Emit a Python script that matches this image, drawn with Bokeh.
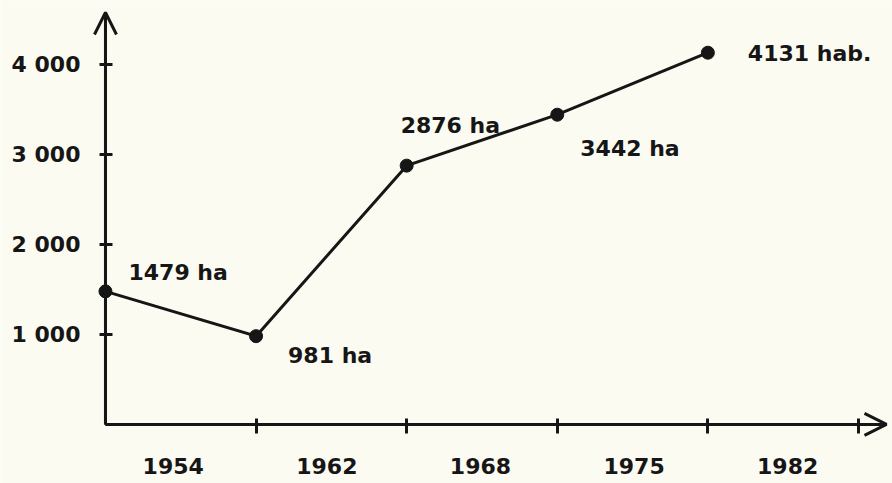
from bokeh.plotting import figure
from bokeh.models import FixedTicker, Arrow, OpenHead, ColumnDataSource, Range1d
from bokeh.core.properties import value
from bokeh.embed import file_html
from bokeh.resources import INLINE

# ---- data ----
years = ["1954", "1962", "1968", "1975", "1982"]
surface = [1479, 981, 2876, 3442, 4131]
point_labels = ["1479 ha", "981 ha", "2876 ha", "3442 ha", "4131 hab."]
y_ticks = [1000, 2000, 3000, 4000]
y_tick_labels = ["1 000", "2 000", "3 000", "4 000"]

# ---- layout / style ----
idx = list(range(len(years)))
year_label_pos = [0.45, 1.47, 2.49, 3.51, 4.53]
period_ticks = [1, 2, 3, 4, 5]
label_dx = [23, 32, -6, 23, 40]
label_dy = [-19, 19, -40, 34, 1]

BG = "#fbfbf2"
INK = "#161616"
FONT = "DejaVu Sans"
FS = "22px"

X_START, X_END = -0.697, 5.226
Y_START, Y_END = -656, 4711
X_ARROW = 5.186
Y_ARROW = 4578

p = figure(width=892, height=483,
           x_range=Range1d(X_START, X_END), y_range=Range1d(Y_START, Y_END),
           output_backend="svg", toolbar_location=None,
           min_border_left=0, min_border_right=0,
           min_border_top=0, min_border_bottom=0,
           background_fill_color=BG, border_fill_color=BG,
           outline_line_color=None)
p.grid.visible = False

# x axis
xa = p.xaxis[0]
xa.fixed_location = 0
xa.bounds = (0, X_ARROW)
xa.ticker = FixedTicker(ticks=year_label_pos, minor_ticks=period_ticks)
xa.major_label_overrides = {v: y for v, y in zip(year_label_pos, years)}
xa.major_tick_line_color = None
xa.major_tick_in = 0
xa.major_tick_out = 0
xa.minor_tick_in = 6
xa.minor_tick_out = 9
xa.minor_tick_line_width = 3
xa.minor_tick_line_color = INK
xa.axis_line_width = 3
xa.axis_line_color = INK
xa.major_label_standoff = 25
xa.major_label_text_font = FONT
xa.major_label_text_font_style = "bold"
xa.major_label_text_font_size = FS
xa.major_label_text_color = INK

# y axis
ya = p.yaxis[0]
ya.fixed_location = 0
ya.bounds = (0, Y_ARROW)
ya.ticker = FixedTicker(ticks=y_ticks)
ya.major_label_overrides = {v: t for v, t in zip(y_ticks, y_tick_labels)}
ya.major_tick_in = 7
ya.major_tick_out = 6
ya.major_tick_line_width = 3
ya.major_tick_line_color = INK
ya.minor_tick_line_color = None
ya.axis_line_width = 3
ya.axis_line_color = INK
ya.major_label_standoff = 19
ya.major_label_text_font = FONT
ya.major_label_text_font_style = "bold"
ya.major_label_text_font_size = FS
ya.major_label_text_color = INK

# arrow heads on axes
p.add_layout(Arrow(end=OpenHead(size=22, line_width=3, line_color=INK),
                   x_start=0, y_start=0, x_end=0, y_end=Y_ARROW,
                   line_width=3, line_color=INK))
p.add_layout(Arrow(end=OpenHead(size=22, line_width=3, line_color=INK),
                   x_start=0, y_start=0, x_end=X_ARROW, y_end=0,
                   line_width=3, line_color=INK))

src = ColumnDataSource(dict(x=idx, y=surface, label=point_labels,
                            dx=label_dx, dy=label_dy))

p.line("x", "y", source=src, line_width=3, line_color=INK)
p.scatter("x", "y", source=src, size=13, fill_color=INK, line_color=INK)
p.text("x", "y", text="label", source=src, x_offset="dx", y_offset="dy",
       text_align="left", text_baseline="middle",
       text_font=value(FONT), text_font_style="bold",
       text_font_size=FS, text_color=INK)

open("out.html", "w").write(file_html(p, INLINE))
